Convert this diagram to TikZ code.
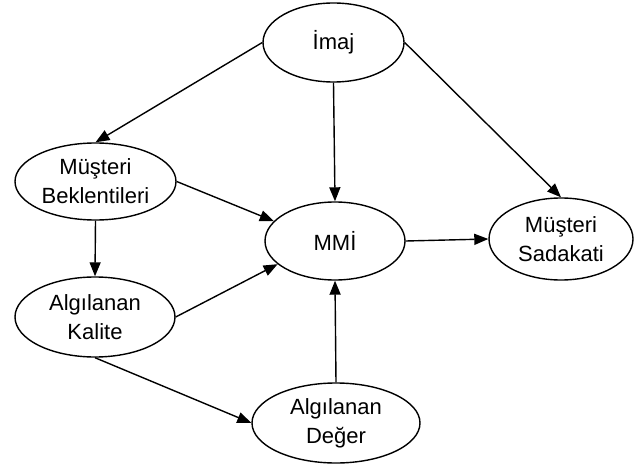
\documentclass[tikz,border=0pt]{standalone}
\usepackage{fontspec}
\setmainfont{Liberation Sans}
\usetikzlibrary{arrows.meta,shapes.geometric}
\begin{document}
\begin{tikzpicture}[x=1pt,y=-1pt,
  oval/.style={ellipse,draw,line width=1.4pt,inner sep=0pt,align=center,
    font=\fontsize{22}{29}\selectfont},
  conn/.style={line width=1.4pt,-{Triangle[length=14pt,width=11pt]}}]
\useasboundingbox (0,0) rectangle (637,465);
\node[oval,minimum width=141pt,minimum height=79pt] (imaj) at (333.5,42.5) {İmaj};
\node[oval,minimum width=161pt,minimum height=77pt] (mb) at (95.5,181.5) {Müşteri\\Beklentileri};
\node[oval,minimum width=160pt,minimum height=80pt] (ak) at (95,317) {Algılanan\\Kalite};
\node[oval,minimum width=140pt,minimum height=78pt] (mmi) at (335,241) {MMİ};
\node[oval,minimum width=144pt,minimum height=82pt] (ms) at (561,239) {Müşteri\\Sadakati};
\node[oval,minimum width=168pt,minimum height=80pt] (ad) at (336,423) {Algılanan\\Değer};
\draw[conn] (imaj.west) -- (mb.north);
\draw[conn] (imaj.south) -- (mmi.north);
\draw[conn] (imaj.east) -- (ms.north);
\draw[conn] (mb.east) -- (mmi.162);
\draw[conn] (mb.south) -- (ak.north);
\draw[conn] (ak.east) -- (mmi.202);
\draw[conn] (ak.south) -- (ad.west);
\draw[conn] (ad.north) -- (mmi.south);
\draw[conn] (mmi.east) -- (ms.west);
\end{tikzpicture}
\end{document}
